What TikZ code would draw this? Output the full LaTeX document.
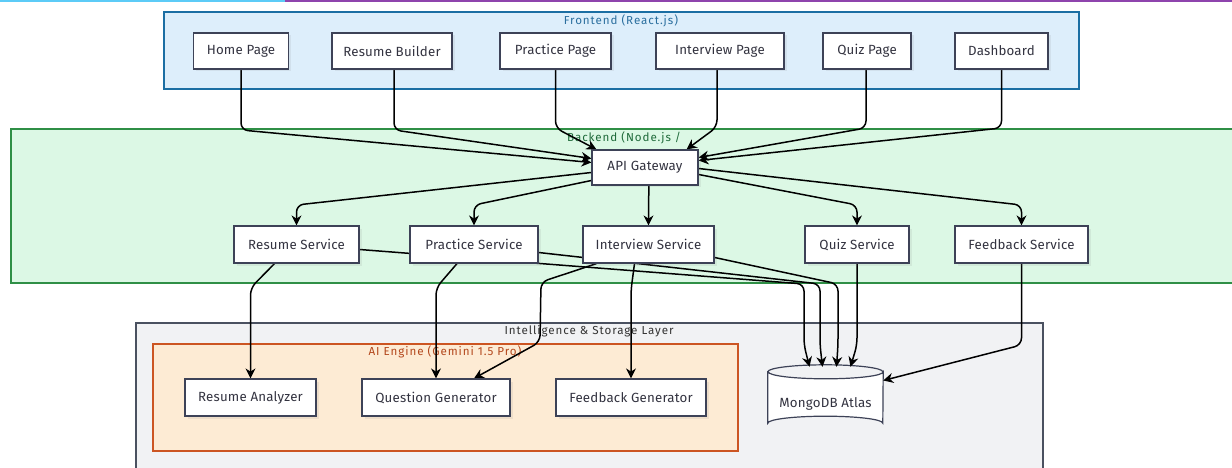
\documentclass[tikz,border=0pt]{standalone}
\usepackage{fontspec}
\setmainfont{Fira Sans}
\newfontfamily\nodefont[LetterSpace=1.5]{Fira Sans}
\newfontfamily\titlefont[LetterSpace=8]{Fira Sans}
\usetikzlibrary{arrows.meta,shadows}
\pgfdeclarelayer{bg}
\pgfdeclarelayer{edges}
\pgfsetlayers{bg,edges,main}
\definecolor{frontFill}{HTML}{DDEEFB}
\definecolor{frontDraw}{HTML}{1B6EA3}
\definecolor{frontText}{HTML}{2A6E9E}
\definecolor{backFill}{HTML}{DCF8E5}
\definecolor{backDraw}{HTML}{2F8F46}
\definecolor{backText}{HTML}{1F6A3A}
\definecolor{intelFill}{HTML}{F1F2F4}
\definecolor{intelDraw}{HTML}{4A5160}
\definecolor{intelText}{HTML}{333333}
\definecolor{aiFill}{HTML}{FDEBD4}
\definecolor{aiDraw}{HTML}{CC5522}
\definecolor{aiText}{HTML}{B3471C}
\definecolor{nodeDraw}{HTML}{3D4257}
\definecolor{nodeText}{HTML}{333340}
\definecolor{topCyan}{HTML}{5CCBF7}
\definecolor{topPurple}{HTML}{8E44AD}
\tikzset{
  box/.style={draw=nodeDraw, line width=1.2pt, fill=white, text=nodeText,
    minimum height=36pt, inner sep=0pt, font=\nodefont\fontsize{13.3}{15}\selectfont,
    drop shadow={shadow xshift=2.5pt, shadow yshift=-2.5pt, opacity=0.12}},
  arr/.style={draw=black, line width=1.5pt, rounded corners=7pt,
    -{Stealth[length=10pt,width=10pt]}},
  ttl/.style={font=\titlefont\fontsize{11.6}{13}\selectfont, inner sep=0pt},
  cyl/.style={draw=nodeDraw, line width=1.2pt, fill=white}
}
\begin{document}
\begin{tikzpicture}[x=1pt,y=-1pt]
\useasboundingbox (0,0) rectangle (1232,468);

% nodes
\node[box, minimum width=95pt]  (home) at (241,51) {Home Page};
\node[box, minimum width=120pt] (rb)   at (392,51) {Resume Builder};
\node[box, minimum width=111pt] (pp)   at (555.5,51) {Practice Page};
\node[box, minimum width=128pt] (ip)   at (720,51) {Interview Page};
\node[box, minimum width=88pt]  (qp)   at (867,51) {Quiz Page};
\node[box, minimum width=93pt]  (db)   at (1001.5,51) {Dashboard};

\node[box, minimum width=106pt, minimum height=35pt] (gw) at (645,167.5) {API Gateway};

\node[box, minimum width=125pt, minimum height=37pt] (rs) at (296.5,244.5) {Resume Service};
\node[box, minimum width=128pt, minimum height=37pt] (ps) at (474,244.5) {Practice Service};
\node[box, minimum width=131pt, minimum height=37pt] (is) at (648.5,244.5) {Interview Service};
\node[box, minimum width=104pt, minimum height=37pt] (qs) at (857,244.5) {Quiz Service};
\node[box, minimum width=133pt, minimum height=37pt] (fs) at (1021.5,244.5) {Feedback Service};

\node[box, minimum width=131pt, minimum height=37pt] (ra) at (250.5,397.5) {Resume Analyzer};
\node[box, minimum width=148pt, minimum height=37pt] (qg) at (436,397.5) {Question Generator};
\node[box, minimum width=150pt, minimum height=37pt] (fg) at (631,397.5) {Feedback Generator};

\node[minimum width=115pt, minimum height=65pt, inner sep=0pt] (mongo) at (825.5,397.5) {};
\node[font=\nodefont\fontsize{13.3}{15}\selectfont, text=nodeText, inner sep=0pt]
  (mongotxt) at ([yshift=-6pt]mongo.center) {MongoDB Atlas};

% containers
\begin{pgfonlayer}{bg}
  \fill[white] (0,0) rectangle (1232,468);
  \fill[topCyan] (0,0) rectangle (285,2);
  \fill[topPurple] (285,0) rectangle (1232,2);
  \draw[frontDraw, fill=frontFill, line width=1.3pt] (164,12) rectangle (1079,89);
  \node[ttl, text=frontText] (tfront) at (621,21) {Frontend (React.js)};
  \fill[backFill] (11,129) rectangle (1232,283);
  \draw[backDraw, line width=1.3pt] (1233,129) -- (11,129) -- (11,283) -- (1233,283);
  \node[ttl, text=backText] (tback) at (624,138) {Backend (Node.js /};
  \fill[intelFill] (136,323) rectangle (1043,468);
  \draw[intelDraw, line width=1.3pt] (136,469) -- (136,323) -- (1043,323) -- (1043,469);
  \node[ttl, text=intelText] (tintel) at (589,331) {Intelligence \& Storage Layer};
  \draw[aiDraw, fill=aiFill, line width=1.3pt] (153,344) rectangle (738,451);
  \node[ttl, text=aiText] (tai) at (445,352) {AI Engine (Gemini 1.5 Pro)};
\end{pgfonlayer}

\begin{pgfonlayer}{edges}
  % cylinder
  \draw[cyl] ([yshift=-7pt]mongo.north west) -- ([yshift=7pt]mongo.south west)
    arc[start angle=180, end angle=360, x radius=57.5, y radius=7]
    -- ([yshift=-7pt]mongo.north east)
    arc[start angle=0, end angle=180, x radius=57.5, y radius=7] -- cycle;
  \draw[cyl, fill=none] ([yshift=-7pt]mongo.north west)
    arc[start angle=180, end angle=360, x radius=57.5, y radius=7];

  % frontend -> gateway
  \draw[arr] (home.south) -- (241,130) -- ([yshift=5pt]gw.west);
  \draw[arr] ([xshift=2pt]rb.south) -- (394,130) -- ([yshift=9pt]gw.west);
  \draw[arr] (pp.south) -- (555.5,128) -- ([xshift=5pt]gw.north west);
  \draw[arr] ([xshift=-3pt]ip.south) -- (717,127) -- ([xshift=-12pt]gw.north east);
  \draw[arr] ([xshift=-1pt]qp.south) -- (866,128) -- ([yshift=10pt]gw.east);
  \draw[arr] (db.south) -- (1001.5,128) -- ([yshift=7pt]gw.east);

  % gateway -> services
  \draw[arr] ([yshift=-5pt]gw.west) -- (296.5,205) -- (rs.north);
  \draw[arr] ([yshift=-13pt]gw.west) -- (474,205) -- (ps.north);
  \draw[arr] ([xshift=4pt]gw.south) -- (648.5,205) -- (is.north);
  \draw[arr] ([yshift=-7pt]gw.east) -- (857,205) -- (qs.north);
  \draw[arr] ([yshift=-1pt]gw.east) -- (1021.5,205) -- (fs.north);

  % services -> AI engine
  \draw[arr] ([xshift=-22pt]rs.south) -- (250.5,288) -- (ra.north);
  \draw[arr] ([xshift=-17pt]ps.south) -- (436,288) -- (qg.north);
  \draw[arr] ([xshift=-52pt]is.south) -- (541,282) -- (540,342) -- ([xshift=38pt]qg.north);
  \draw[arr] ([xshift=-14pt]is.south) -- (631,290) -- (fg.north);

  % services -> MongoDB
  \draw[arr] ([yshift=-5pt]rs.east) -- (804,284) -- (804,345) -- ([xshift=-16pt,yshift=-2pt]mongo.north);
  \draw[arr] ([yshift=-8pt]ps.east) -- (820,284) -- (820,345) -- ([xshift=-3pt,yshift=-2pt]mongo.north);
  \draw[arr] ([yshift=-13pt]is.east) -- (838,284) -- (838,345) -- ([xshift=11pt,yshift=-2pt]mongo.north);
  \draw[arr] (qs.south) -- (857,345) -- ([xshift=25pt,yshift=-2pt]mongo.north);
  \draw[arr] (fs.south) -- (1021.5,345) -- ([yshift=17pt]mongo.east);
\end{pgfonlayer}
\end{tikzpicture}
\end{document}
